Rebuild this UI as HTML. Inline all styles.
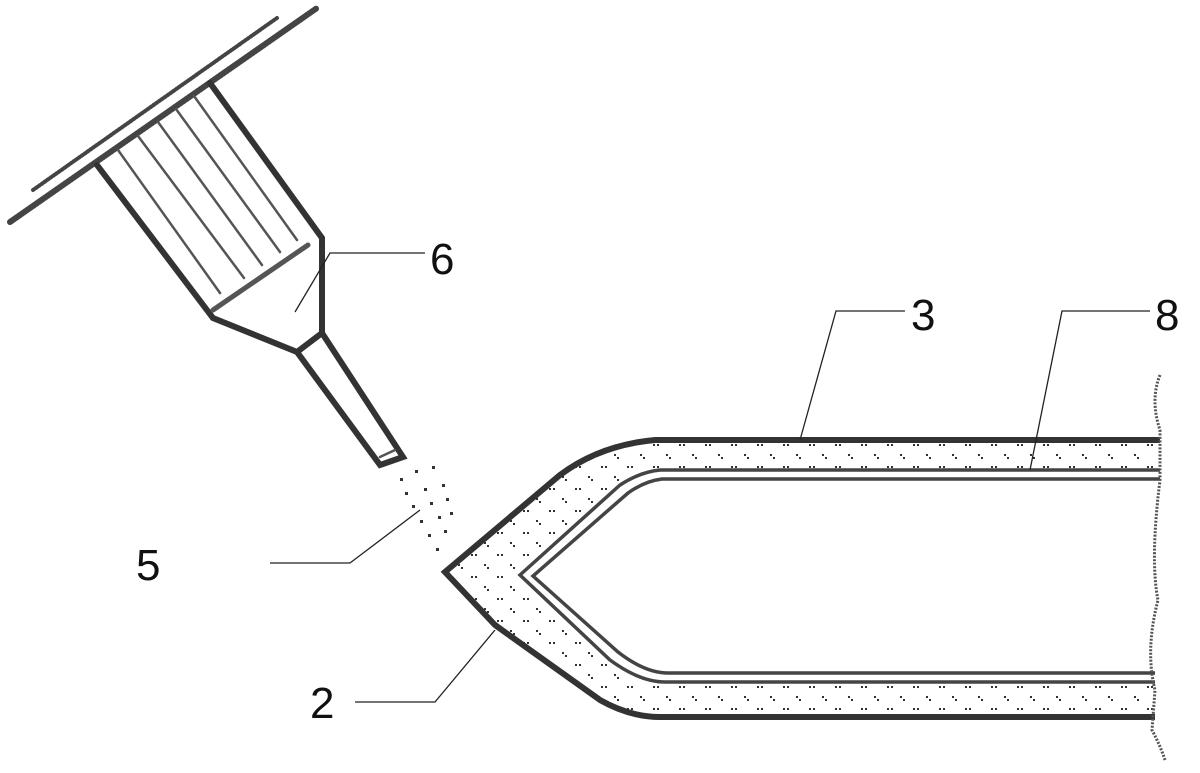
<!DOCTYPE html>
<html><head><style>html,body{margin:0;padding:0;background:#fff}svg{display:block}text{font-family:"Liberation Sans",sans-serif;font-size:44px;fill:#111}</style></head>
<body>
<svg width="1200" height="773" viewBox="0 0 1200 773" xmlns="http://www.w3.org/2000/svg">
<defs>
<pattern id="dots" width="26" height="22" patternUnits="userSpaceOnUse">
<rect x="3" y="4" width="2" height="2" fill="#333"/><rect x="7" y="4" width="2" height="2" fill="#333"/>
<rect x="16" y="14" width="2" height="2" fill="#333"/><rect x="19" y="17" width="2" height="2" fill="#333"/>
</pattern>
</defs>
<g fill="none" stroke="#444" stroke-linecap="round">
<line x1="10" y1="222" x2="317" y2="8" stroke-width="6" stroke-dasharray="2 1.5"/>
<line x1="33" y1="190" x2="277" y2="18" stroke-width="4" stroke-dasharray="1.5 2"/>
<g stroke-width="6" stroke="#333">
<path d="M97 165 L213 318 L297 352 L380 465 L403 457 L322 333 L322 238 L210 83"/>
<line x1="297" y1="352" x2="322" y2="333"/>
</g>
<g stroke-width="2.5" stroke="#555">
<line x1="213" y1="310" x2="308" y2="245" stroke-width="5"/>
<line x1="118" y1="150" x2="220" y2="293"/>
<line x1="138" y1="136" x2="244" y2="278"/>
<line x1="158" y1="122" x2="262" y2="265"/>
<line x1="176" y1="109" x2="280" y2="252"/>
<line x1="194" y1="96" x2="297" y2="240"/>
<line x1="380" y1="457" x2="395" y2="450"/>
</g>
</g>
<g fill="#333">
<rect x="400" y="478" width="3" height="3"/><rect x="415" y="470" width="3" height="3"/><rect x="432" y="466" width="3" height="3"/>
<rect x="405" y="492" width="3" height="3"/><rect x="424" y="488" width="3" height="3"/><rect x="442" y="484" width="3" height="3"/>
<rect x="412" y="505" width="3" height="3"/><rect x="430" y="502" width="3" height="3"/><rect x="446" y="498" width="3" height="3"/>
<rect x="420" y="520" width="3" height="3"/><rect x="438" y="516" width="3" height="3"/><rect x="450" y="512" width="3" height="3"/>
<rect x="428" y="534" width="3" height="3"/><rect x="444" y="530" width="3" height="3"/>
<rect x="436" y="548" width="3" height="3"/>
</g>
<path fill="url(#dots)" fill-rule="evenodd" d="M1160 440 L655 440 Q600 445 560 475 L445 572 L495 625 L600 700 Q630 717 660 717 L1155 717 L1155 682 L665 682 Q640 682 610 660 L520 575 L620 485 Q640 472 660 470 L1160 470 Z"/>
<g fill="none" stroke="#333" stroke-width="6">
<path d="M1160 440 L655 440 Q600 445 560 475 L445 572 L495 625 L600 700 Q630 717 660 717 L1155 717"/>
</g>
<g fill="none" stroke="#444" stroke-width="3.5">
<path d="M1160 470 L660 470 Q640 472 620 485 L520 575 L610 660 Q640 682 665 682 L1155 682"/>
<path d="M1160 479 L662 479 Q645 481 628 493 L533 576 L618 652 Q645 673 668 673 L1155 673"/>
</g>
<path d="M1160 375 Q1150 400 1160 430 L1160 480 Q1150 560 1158 600 Q1145 650 1155 690 L1152 730 Q1160 745 1165 760" fill="none" stroke="#555" stroke-width="3" stroke-dasharray="2 1.5"/>
<g fill="none" stroke="#222" stroke-width="1.3">
<polyline points="295,312 330,253 425,253"/>
<polyline points="800,440 836,311 905,311"/>
<polyline points="1030,470 1062,311 1150,311"/>
<polyline points="270,563 350,563 420,510"/>
<polyline points="355,702 435,702 495,630"/>
</g>
<text x="430" y="274">6</text>
<text x="911" y="330">3</text>
<text x="1155" y="330">8</text>
<text x="136" y="580">5</text>
<text x="310" y="718">2</text>
</svg>
</body></html>
